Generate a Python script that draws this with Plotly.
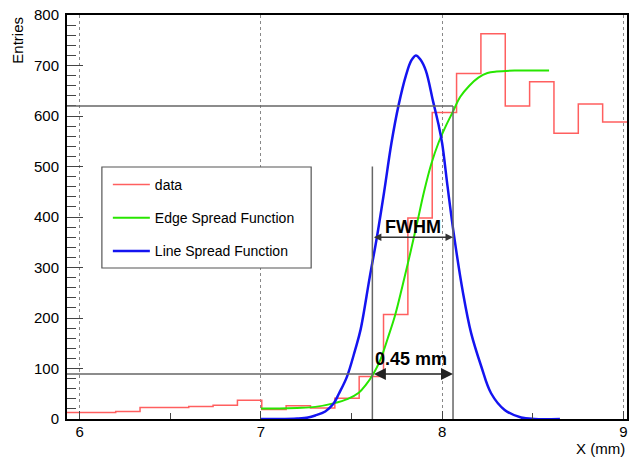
import numpy as np
import plotly.graph_objects as go

# ---------------- data ----------------
x_min, x_max = 5.93, 9.02
n_bins = 23
counts = [13, 13, 15, 23, 23, 25, 27, 37, 19, 26, 22, 41, 84,
          207, 398, 607, 684, 763, 620, 668, 566, 624, 588]

esf_x = [7.00, 7.10, 7.20, 7.30, 7.40, 7.48, 7.54, 7.58, 7.62, 7.66, 7.70,
         7.74, 7.78, 7.82, 7.86, 7.90, 7.94, 7.98, 8.02, 8.06, 8.10, 8.15,
         8.20, 8.25, 8.30, 8.40, 8.50, 8.59]
esf_y = [21, 21, 22, 24, 31, 40, 52, 68, 89, 118, 160,
         205, 262, 322, 385, 450, 505, 547, 580, 609, 638, 660,
         676, 685, 688, 690, 690, 690]

lsf_x = [7.00, 7.10, 7.20, 7.26, 7.30, 7.355, 7.40, 7.43, 7.475, 7.52, 7.55,
         7.60, 7.64, 7.68, 7.72, 7.76, 7.80, 7.83, 7.855, 7.88, 7.91, 7.95,
         7.98, 8.00, 8.03, 8.066, 8.115, 8.16, 8.216, 8.27, 8.345, 8.436,
         8.51, 8.65]
lsf_y = [0, 0, 1, 3, 7, 15, 30, 50, 84, 137, 177,
         280, 360, 450, 546, 622, 680, 710, 720, 712, 690, 629,
         583, 546, 460, 362, 250, 170, 104, 51, 18, 3,
         0, 0]

fwhm_left, fwhm_right = 7.615, 8.06
half_max = 360
low_level, high_level = 89, 620
left_line_top = 500
fwhm_label = "FWHM"
width_label = "0.45 mm"

# ---------------- figure ----------------
edges = np.linspace(x_min, x_max, n_bins + 1)
hist_y = counts + [counts[-1]]

FONT = "Liberation Sans, Arial, Helvetica, sans-serif"

fig = go.Figure()
fig.add_trace(go.Scatter(x=edges, y=hist_y, mode="lines", line_shape="hv",
                         line=dict(color="rgb(255,95,95)", width=1.5), name="data"))
fig.add_trace(go.Scatter(x=esf_x, y=esf_y, mode="lines",
                         line=dict(color="rgb(40,230,0)", width=2), name="Edge Spread Function",
                         line_shape="spline"))
fig.add_trace(go.Scatter(x=lsf_x, y=lsf_y, mode="lines",
                         line=dict(color="rgb(20,20,240)", width=2.5), name="Line Spread Function",
                         line_shape="spline"))

grey = "#666666"
shapes = [
    dict(type="line", xref="x", yref="y", x0=x_min, x1=fwhm_right, y0=high_level, y1=high_level,
         line=dict(color=grey, width=1.5)),
    dict(type="line", xref="x", yref="y", x0=fwhm_right, x1=fwhm_right, y0=0, y1=high_level,
         line=dict(color=grey, width=1.5)),
    dict(type="line", xref="x", yref="y", x0=x_min, x1=fwhm_left, y0=low_level, y1=low_level,
         line=dict(color=grey, width=1.5)),
    dict(type="line", xref="x", yref="y", x0=fwhm_left, x1=fwhm_left, y0=0, y1=left_line_top,
         line=dict(color=grey, width=1.5)),
    # legend box
    dict(type="rect", xref="paper", yref="paper", x0=0.0623, x1=0.436, y0=0.3738, y1=0.6238,
         line=dict(color="#555555", width=1.2), fillcolor="white", layer="above"),
]

annotations = [
    dict(x=fwhm_right, y=half_max, ax=fwhm_left, ay=half_max, xref="x", yref="y",
         axref="x", ayref="y", text="", showarrow=True, arrowhead=2, startarrowhead=2,
         arrowside="end+start", arrowsize=1, arrowwidth=1.5, arrowcolor="#333333",
         startarrowsize=1),
    dict(x=fwhm_right, y=low_level, ax=fwhm_left, ay=low_level, xref="x", yref="y",
         axref="x", ayref="y", text="", showarrow=True, arrowhead=2, startarrowhead=2,
         arrowside="end+start", arrowsize=1.6, arrowwidth=1.5, arrowcolor="#222222",
         startarrowsize=1.6),
    dict(x=(fwhm_left + fwhm_right) / 2, y=half_max, xref="x", yref="y", text="<b>%s</b>" % fwhm_label,
         showarrow=False, yanchor="bottom", yshift=-2, font=dict(family=FONT, size=18, color="black")),
    dict(x=(fwhm_left + fwhm_right) / 2 - 0.01, y=low_level, xref="x", yref="y",
         text="<b>%s</b>" % width_label, showarrow=False, yanchor="bottom", yshift=3,
         font=dict(family=FONT, size=18, color="black")),
    dict(x=(17 - 67) / 562, y=1, xref="paper", yref="paper", text="Entries", textangle=-90,
         showarrow=False, xanchor="center", yanchor="top",
         font=dict(family=FONT, size=15, color="black")),
    dict(x=1, y=-0.047, xref="paper", yref="paper", text="X (mm)", showarrow=False,
         xanchor="right", yanchor="top", font=dict(family=FONT, size=15, color="black")),
]

fig.update_layout(
    width=630, height=457,
    margin=dict(l=67, r=1, t=15, b=38),
    paper_bgcolor="white", plot_bgcolor="white",
    font=dict(family=FONT, size=15, color="black"),
    shapes=shapes, annotations=annotations,
    showlegend=True,
    legend=dict(x=(108 - 67) / 562, y=1 - (169 - 15) / 404, xanchor="left", yanchor="top",
                bgcolor="rgba(0,0,0,0)", borderwidth=0, font=dict(family=FONT, size=14, color="black"),
                tracegroupgap=12, itemwidth=37),
)
for i, tr in enumerate(fig.data):
    tr.legendgroup = "g%d" % i

fig.update_xaxes(range=[x_min, x_max], dtick=1, tick0=6, ticks="inside", ticklen=8, tickwidth=1.2,
                 tickcolor="#444", showline=True, linecolor="black", linewidth=2, mirror=True,
                 showgrid=True, gridcolor="#888", griddash="dot", gridwidth=1, zeroline=False,
                 ticklabelstandoff=-2,
                 minor=dict(dtick=0.5, tick0=6, ticks="inside", ticklen=6, tickcolor="#444", showgrid=False),
                 tickfont=dict(family=FONT, size=15, color="black"))
fig.update_yaxes(range=[0, 800], dtick=100, ticks="inside", ticklen=16, tickwidth=1.2,
                 tickcolor="#444", showline=True, linecolor="black", linewidth=2, mirror=True,
                 showgrid=False, zeroline=False, ticklabelstandoff=3,
                 minor=dict(dtick=20, ticks="inside", ticklen=9, tickcolor="#444", showgrid=False),
                 tickfont=dict(family=FONT, size=15, color="black"))

fig.write_html("out.html", config={"displayModeBar": False},
               post_script="document.body.style.margin='0';")
